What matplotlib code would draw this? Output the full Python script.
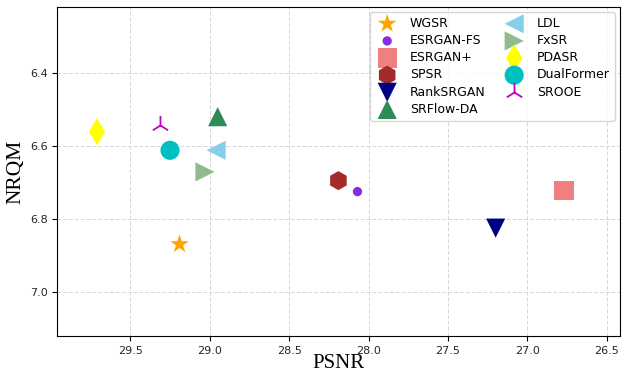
import matplotlib
matplotlib.use("Agg")
import matplotlib.pyplot as plt

methods = ["WGSR", "ESRGAN-FS", "ESRGAN+", "SPSR", "RankSRGAN", "SRFlow-DA",
           "LDL", "FxSR", "PDASR", "DualFormer", "SROOE"]
psnr = [29.19, 28.07, 26.77, 28.19, 27.20, 28.95, 28.96, 29.03, 29.71, 29.25, 29.31]
nrqm = [6.869, 6.725, 6.721, 6.695, 6.825, 6.520, 6.612, 6.671, 6.561, 6.612, 6.542]
markers = ["*", "o", "s", "h", "v", "^", "<", ">", "d", "o", "2"]
colors = ["orange", "blueviolet", "lightcoral", "brown", "navy", "seagreen",
          "skyblue", "darkseagreen", "yellow", "c", "m"]
sizes = [200, 45, 190, 190, 190, 190, 190, 190, 190, 190, 190]

fig = plt.figure(figsize=(6.29, 3.72), dpi=100)
ax = fig.add_axes([0.091, 0.097, 0.894, 0.884])

for m, x, y, mk, c, s in zip(methods, psnr, nrqm, markers, colors, sizes):
    if mk == "2":
        ax.scatter(x, y, marker=mk, color=c, s=s, linewidths=1.3, label=m, zorder=3)
    else:
        ax.scatter(x, y, marker=mk, color=c, s=s, edgecolors="none", label=m, zorder=3)

ax.set_xlim(29.96, 26.42)
ax.set_ylim(7.12, 6.22)
ax.set_xticks([29.5, 29.0, 28.5, 28.0, 27.5, 27.0, 26.5])
ax.set_yticks([6.4, 6.6, 6.8, 7.0])
ax.tick_params(labelsize=8, labelcolor="#262626")
ax.grid(True, linestyle=(0, (4, 2)), color="#d6d6d6", linewidth=0.7)
ax.set_axisbelow(True)

ax.set_xlabel("PSNR", fontsize=15, family="Liberation Serif", labelpad=-1.5)
ax.set_ylabel("NRQM", fontsize=15.5, family="Liberation Serif", labelpad=3)

ax.legend(loc="upper right", ncol=2, fontsize=9, frameon=True,
          borderaxespad=0.4, handletextpad=0.8, columnspacing=1.3,
          labelspacing=0.33)

fig.savefig("out.png", dpi=100)
